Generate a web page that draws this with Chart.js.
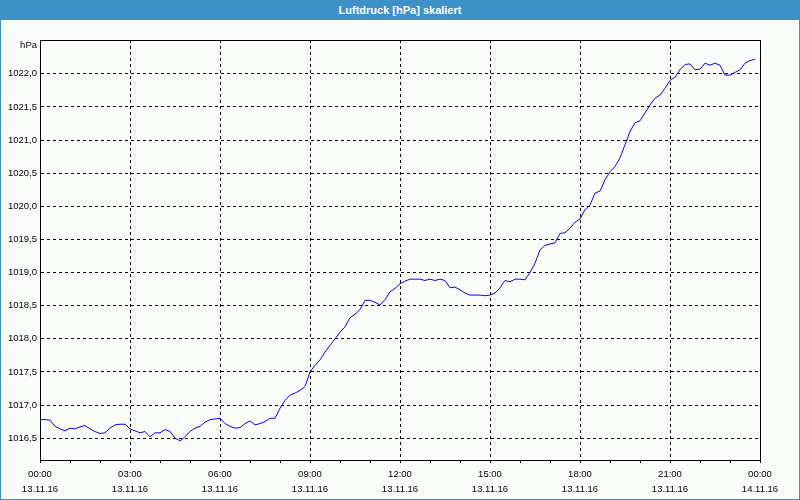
<!DOCTYPE html>
<html>
<head>
<meta charset="utf-8">
<script src="https://cdn.jsdelivr.net/npm/chart.js@4"></script>
<style>
  body { margin: 0; background: #fbfdfb; }
  .frame { position: relative; width: 800px; height: 500px; background: #fbfdfb; }
  .title-bar {
    position: absolute; left: 0; top: 0; width: 800px; height: 20px;
    background: #3d91c8; color: #fff; text-align: center;
    font: bold 11px "Liberation Sans", Arial, sans-serif; line-height: 20px;
  }
  .chart-box { position: absolute; left: 0; top: 20px; width: 800px; height: 480px; }
  .outline {
    position: absolute; left: 0; top: 0; width: 800px; height: 500px;
    box-sizing: border-box; border: 1px solid #3d91c8; pointer-events: none;
  }
</style>
</head>
<body>
<div class="frame">
  <div class="title-bar">Luftdruck [hPa] skaliert</div>
  <div class="chart-box"><canvas id="pressureChart" width="800" height="480"></canvas></div>
  <div class="outline"></div>
</div>
<script>
// readings every 10 minutes, starting 13.11.16 00:00
const stepMinutes = 10;
const pressure = [
  1016.78, 1016.78, 1016.77, 1016.68, 1016.64, 1016.61, 1016.65, 1016.64, 1016.67, 1016.69,
  1016.64, 1016.60, 1016.57, 1016.58, 1016.65, 1016.70, 1016.71, 1016.71, 1016.64, 1016.61,
  1016.58, 1016.60, 1016.52, 1016.58, 1016.58, 1016.63, 1016.60, 1016.50, 1016.46, 1016.52,
  1016.60, 1016.65, 1016.68, 1016.74, 1016.78, 1016.79, 1016.80, 1016.72, 1016.68, 1016.65,
  1016.66, 1016.72, 1016.76, 1016.70, 1016.72, 1016.75, 1016.80, 1016.80, 1016.95, 1017.07,
  1017.15, 1017.18, 1017.22, 1017.28, 1017.50, 1017.60, 1017.68, 1017.80, 1017.90, 1018.00,
  1018.10, 1018.18, 1018.32, 1018.37, 1018.44, 1018.58, 1018.58, 1018.55, 1018.51, 1018.59,
  1018.71, 1018.76, 1018.83, 1018.87, 1018.90, 1018.90, 1018.90, 1018.88, 1018.90, 1018.88,
  1018.90, 1018.88, 1018.77, 1018.78, 1018.74, 1018.69, 1018.66, 1018.66, 1018.66, 1018.65,
  1018.66, 1018.69, 1018.77, 1018.88, 1018.86, 1018.90, 1018.90, 1018.89, 1019.00, 1019.14,
  1019.34, 1019.41, 1019.43, 1019.45, 1019.59, 1019.60, 1019.67, 1019.76, 1019.81, 1019.95,
  1020.02, 1020.20, 1020.23, 1020.40, 1020.52, 1020.60, 1020.73, 1020.93, 1021.13, 1021.26,
  1021.29, 1021.41, 1021.53, 1021.63, 1021.68, 1021.78, 1021.90, 1021.95, 1022.06, 1022.14,
  1022.15, 1022.06, 1022.07, 1022.16, 1022.13, 1022.16, 1022.13, 1021.98, 1021.98, 1022.02,
  1022.06, 1022.16, 1022.20, 1022.22
];

const hourLabels = ["00:00", "03:00", "06:00", "09:00", "12:00", "15:00", "18:00", "21:00", "00:00"];
const dateLabels = ["13.11.16", "13.11.16", "13.11.16", "13.11.16", "13.11.16", "13.11.16", "13.11.16", "13.11.16", "14.11.16"];
const yTicks = [1016.5, 1017.0, 1017.5, 1018.0, 1018.5, 1019.0, 1019.5, 1020.0, 1020.5, 1021.0, 1021.5, 1022.0];
const yMin = 1016.17;
const yMax = 1022.51;

const points = pressure.map((v, i) => ({ x: i * stepMinutes, y: v }));

const tickFont = { family: "'Liberation Sans', Arial, sans-serif", size: 9.5, lineHeight: "15px" };

// solid frame round the plot area plus the unit label
const framePlugin = {
  id: "frame",
  afterDraw(chart) {
    const a = chart.chartArea;
    const c = chart.ctx;
    c.save();
    c.strokeStyle = "#000";
    c.lineWidth = 1;
    c.strokeRect(a.left + 0.5, a.top + 0.5, a.right - a.left, a.bottom - a.top);
    c.fillStyle = "#000";
    c.font = "9.5px 'Liberation Sans', Arial, sans-serif";
    c.textAlign = "right";
    c.textBaseline = "middle";
    c.fillText("hPa", a.left - 3, a.top + 5);
    c.restore();
  }
};

const ctx = document.getElementById("pressureChart");
const chart = new Chart(ctx, {
  type: "line",
  data: {
    datasets: [{
      data: points,
      borderColor: "#0000ff",
      borderWidth: 1,
      pointRadius: 0,
      tension: 0,
      fill: false
    }]
  },
  options: {
    responsive: false,
    animation: false,
    events: [],
    layout: { padding: { top: 20, right: 40, left: 0, bottom: 0 } },
    plugins: {
      legend: { display: false },
      tooltip: { enabled: false },
      title: { display: false }
    },
    scales: {
      x: {
        type: "linear",
        min: 0,
        max: 1440,
        afterFit: (scale) => { scale.height = 40; },
        ticks: {
          stepSize: 60,
          autoSkip: false,
          maxRotation: 0,
          padding: 4,
          color: "#000",
          font: tickFont,
          callback: (value) => {
            if (value % 180 !== 0) return "";
            const k = value / 180;
            return [hourLabels[k], dateLabels[k]];
          }
        },
        grid: {
          color: (c) => (c.tick && c.tick.value % 180 === 0 ? "#000" : "rgba(0,0,0,0)"),
          tickColor: "#000",
          tickLength: 3,
          lineWidth: 1
        },
        border: { display: true, color: "#000", dash: [3, 3] }
      },
      y: {
        min: yMin,
        max: yMax,
        afterFit: (scale) => { scale.width = 40; },
        afterBuildTicks: (axis) => { axis.ticks = yTicks.map((v) => ({ value: v })); },
        ticks: {
          padding: 3,
          color: "#000",
          font: tickFont,
          callback: (value) => value.toFixed(1).replace(".", ",")
        },
        grid: {
          color: "#000",
          drawTicks: false,
          lineWidth: 1
        },
        border: { display: true, color: "#000", dash: [3, 3] }
      }
    }
  },
  plugins: [framePlugin]
});
</script>
</body>
</html>
